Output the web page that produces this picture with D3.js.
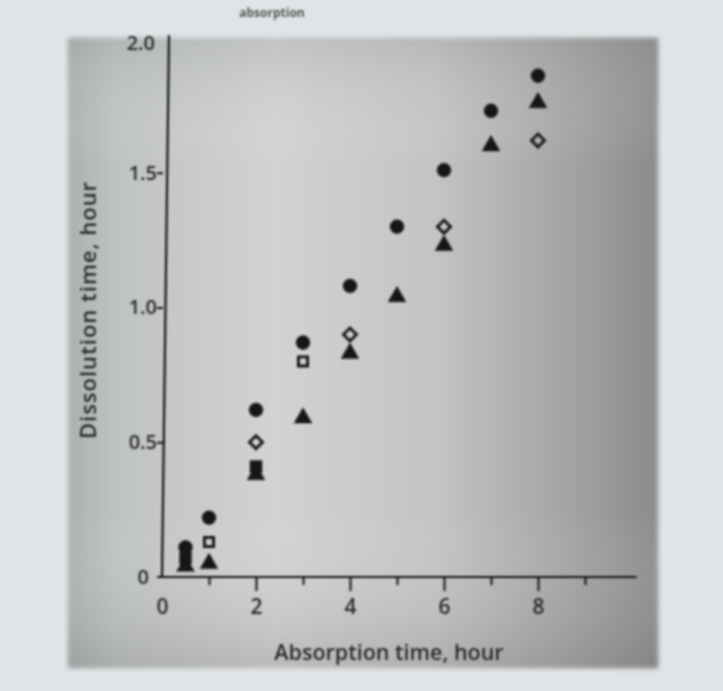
<!DOCTYPE html>
<html>
<head>
<meta charset="utf-8">
<style>
    body { margin: 0; background-color: #e0e4e6; }
    svg { display: block; }
</style>
</head>
<body>
<div class="board"></div>
<script src="https://d3js.org/d3.v7.min.js"></script>
<script>
    var width = 723, height = 691

    // values (hours)
    var circleX = [0.5, 1, 2, 3, 4, 5, 6, 7, 8]
    var circleY = [0.11, 0.22, 0.62, 0.87, 1.08, 1.30, 1.51, 1.73, 1.86]
    var triangleX = [0.5, 1, 2, 3, 4, 5, 6, 7, 8]
    var triangleY = [0.04, 0.05, 0.38, 0.59, 0.83, 1.04, 1.23, 1.60, 1.76]
    var diamondX = [2, 4, 6, 8]
    var diamondY = [0.50, 0.90, 1.30, 1.62]
    var openSquareX = [1, 3]
    var openSquareY = [0.13, 0.80]
    var filledSquareX = [0.5, 2]
    var filledSquareY = [0.07, 0.41]

    var xTicks = [0, 1, 2, 3, 4, 5, 6, 7, 8, 9]
    var yTicks = [0, 0.5, 1.0, 1.5, 2.0]
    var xTitle = "Absorption time, hour"
    var yTitle = "Dissolution time, hour"
    var topText = "absorption"

    INK = "#141414"
    LABEL = "#2c2c2c"

    var svg = d3.select(".board")
        .append("svg")
        .attr("width", width)
        .attr("height", height)

    var defs = svg.append("defs")

    var grad = defs.append("linearGradient")
        .attr("id", "paper")
        .attr("x1", "0").attr("x2", "1").attr("y1", "0").attr("y2", "0")
    grad.selectAll("stop")
        .data([["0%", "#abb0b0"], ["8%", "#bfc2c2"], ["35%", "#d2d2d3"], ["62%", "#c4c4c5"], ["85%", "#a3a3a4"], ["100%", "#8b8b8c"]])
        .enter().append("stop")
        .attr("offset", d => d[0])
        .attr("stop-color", d => d[1])

    var shade = defs.append("linearGradient")
        .attr("id", "shade")
        .attr("x1", "0").attr("x2", "0").attr("y1", "0").attr("y2", "1")
    shade.selectAll("stop")
        .data([["0%", "#8a9090", 0.25], ["20%", "#ffffff", 0.0], ["75%", "#ffffff", 0.0], ["100%", "#707070", 0.25]])
        .enter().append("stop")
        .attr("offset", d => d[0])
        .attr("stop-color", d => d[1])
        .attr("stop-opacity", d => d[2])

    defs.append("filter").attr("id", "soft")
        .attr("x", "-5%").attr("y", "-5%").attr("width", "110%").attr("height", "110%")
        .append("feGaussianBlur").attr("stdDeviation", 2.5)

    defs.append("filter").attr("id", "ink")
        .append("feGaussianBlur").attr("stdDeviation", 0.8)

    // printed panel behind the chart
    svg.append("rect")
        .attr("x", 68).attr("y", 38).attr("width", 590).attr("height", 630)
        .attr("fill", "url(#paper)")
        .attr("filter", "url(#soft)")
    svg.append("rect")
        .attr("x", 68).attr("y", 38).attr("width", 590).attr("height", 630)
        .attr("fill", "url(#shade)")
        .attr("filter", "url(#soft)")

    // heading of the page, mostly cut off in the photo
    svg.append("text")
        .text(topText)
        .attr("x", 272).attr("y", 17)
        .attr("text-anchor", "middle")
        .attr("font-family", "Open Sans")
        .attr("font-weight", 700)
        .attr("font-size", 12)
        .attr("fill", "#555")
        .attr("filter", "url(#ink)")

    var xScale = d3.scaleLinear()
        .domain([0, 10])
        .range([162, 632])

    var yScale = d3.scaleLinear()
        .domain([0, 2])
        .range([577, 38])

    var chart = svg.append("g")
        .attr("filter", "url(#ink)")

    // axes
    var xAxis = chart.append("g")
        .attr("transform", "translate(0," + yScale(0) + ")")
        .call(d3.axisBottom(xScale)
            .tickValues(xTicks)
            .tickSize(13)
            .tickPadding(9)
            .tickFormat(d => d % 2 == 0 ? d : ""))
    xAxis.select(".domain").remove()
    xAxis.selectAll(".tick line")
        .attr("stroke", INK)
        .attr("stroke-width", 2)
        .attr("y2", d => d == 0 ? 0 : (d % 2 == 0 ? 14 : 8))
    xAxis.selectAll(".tick text")
        .attr("font-family", "Open Sans")
        .attr("font-weight", 600)
        .attr("font-size", 21)
        .attr("fill", LABEL)

    var yAxis = chart.append("g")
        .attr("transform", "translate(" + (xScale(0) + 1) + ",0)")
        .call(d3.axisLeft(yScale)
            .tickValues(yTicks)
            .tickSize(6)
            .tickPadding(5)
            .tickFormat(d => d == 0 ? "0" : d3.format(".1f")(d)))
    yAxis.select(".domain").remove()
    yAxis.selectAll(".tick line")
        .attr("stroke", INK)
        .attr("stroke-width", 2)
        .attr("x2", d => (d == 0 || d == 2) ? 0 : -6)
    yAxis.selectAll(".tick text")
        .attr("font-family", "Open Sans")
        .attr("font-weight", 600)
        .attr("font-size", 20)
        .attr("fill", LABEL)
        .attr("x", d => d == 0 ? -14 : (d == 2 ? -8 : -6))
        .attr("dy", d => d == 2 ? "0.55em" : "0.32em")

    chart.append("line")
        .attr("x1", xScale(0) - 5).attr("x2", xScale(10.1))
        .attr("y1", yScale(0)).attr("y2", yScale(0))
        .attr("stroke", INK).attr("stroke-width", 2.2)
    chart.append("line")
        .attr("x1", xScale(0)).attr("x2", xScale(0) + 7)
        .attr("y1", yScale(0)).attr("y2", yScale(2.01))
        .attr("stroke", INK).attr("stroke-width", 2.2)

    // titles
    svg.append("text")
        .text(xTitle)
        .attr("x", 389).attr("y", 660)
        .attr("text-anchor", "middle")
        .attr("font-family", "Open Sans")
        .attr("font-weight", 600)
        .attr("font-size", 21.5)
        .attr("fill", LABEL)
        .attr("filter", "url(#ink)")

    svg.append("text")
        .text(yTitle)
        .attr("transform", "translate(96,310) rotate(-90)")
        .attr("text-anchor", "middle")
        .attr("font-family", "Open Sans")
        .attr("font-weight", 600)
        .attr("font-size", 22)
        .attr("letter-spacing", 1)
        .attr("fill", LABEL)
        .attr("filter", "url(#ink)")

    // markers
    function points(xs, ys) {
        return xs.map((x, i) => ({ x: x, y: ys[i] }))
    }

    function drawSeries(data, type, size, filled, angle) {
        chart.append("g")
            .selectAll("path")
            .data(data)
            .enter()
            .append("path")
            .attr("d", d3.symbol().type(type).size(size))
            .attr("transform", d => "translate(" + xScale(d.x) + "," + yScale(d.y) + ") rotate(" + (angle || 0) + ")")
            .attr("fill", filled ? INK : "none")
            .attr("stroke", INK)
            .attr("stroke-width", filled ? 0.5 : 2.8)
    }

    drawSeries(points(filledSquareX, filledSquareY), d3.symbolSquare, 140, true)
    drawSeries(points(triangleX, triangleY), d3.symbolTriangle, 135, true)
    drawSeries(points(openSquareX, openSquareY), d3.symbolSquare, 85, false)
    drawSeries(points(diamondX, diamondY), d3.symbolSquare, 85, false, 45)
    drawSeries(points(circleX, circleY), d3.symbolCircle, 150, true)
</script>
</body>
</html>
